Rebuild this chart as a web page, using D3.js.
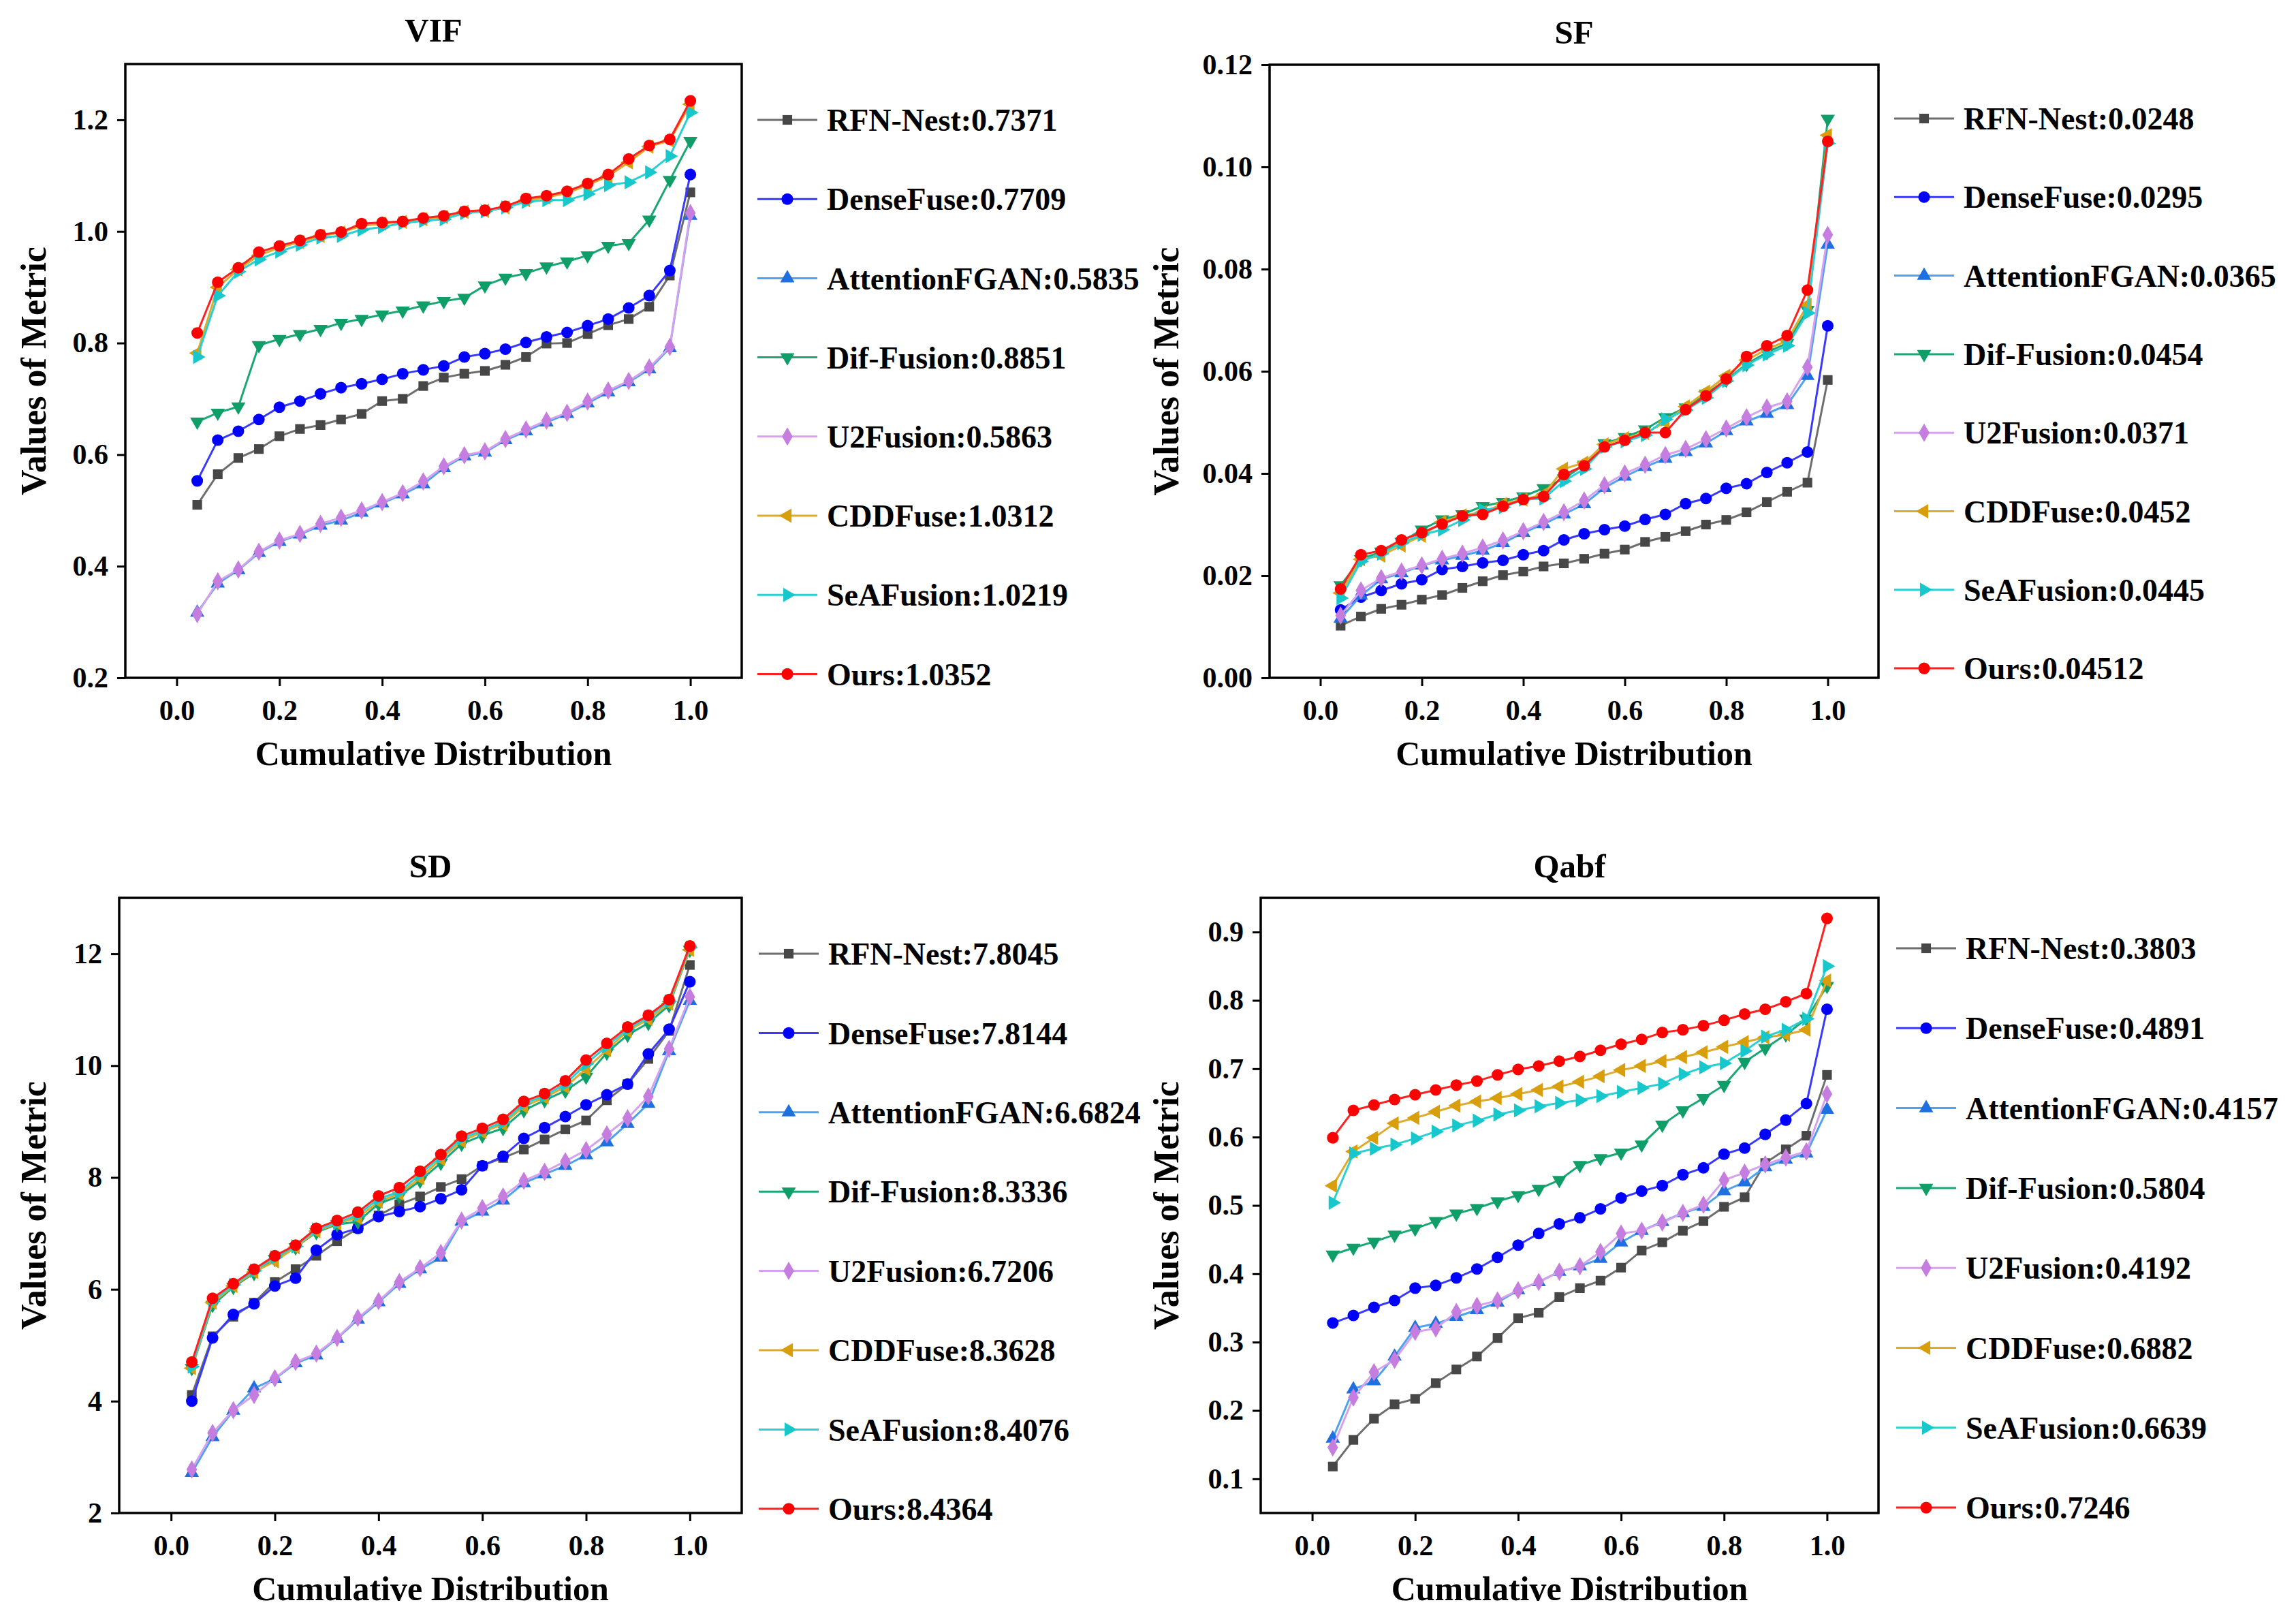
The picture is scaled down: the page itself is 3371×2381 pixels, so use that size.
<!DOCTYPE html>
<html>
<head>
<meta charset="utf-8">
<script src="https://cdn.jsdelivr.net/npm/d3@7/dist/d3.min.js"></script>
<style>
  body { margin: 0; background: #fff; }
  text { font-family: "Liberation Serif", "Times New Roman", serif; font-weight: bold; }
</style>
</head>
<body>
<div id="chart"></div>
<script>
// ---- data ----
const methods = ["RFN-Nest", "DenseFuse", "AttentionFGAN", "Dif-Fusion", "U2Fusion", "CDDFuse", "SeAFusion", "Ours"];
const cdf = [0.04, 0.08, 0.12, 0.16, 0.20, 0.24, 0.28, 0.32, 0.36, 0.40, 0.44, 0.48, 0.52,
             0.56, 0.60, 0.64, 0.68, 0.72, 0.76, 0.80, 0.84, 0.88, 0.92, 0.96, 1.00];
const xTicks = [0.0, 0.2, 0.4, 0.6, 0.8, 1.0];

const vifScores = ["0.7371", "0.7709", "0.5835", "0.8851", "0.5863", "1.0312", "1.0219", "1.0352"];
const vifTicks = [0.2, 0.4, 0.6, 0.8, 1.0, 1.2];
const vifValues = [
  [0.510,0.565,0.594,0.610,0.633,0.646,0.653,0.663,0.673,0.696,0.700,0.723,0.738,0.745,0.750,0.761,0.775,0.799,0.800,0.816,0.832,0.843,0.865,0.921,1.070],
  [0.553,0.626,0.642,0.663,0.685,0.696,0.709,0.720,0.727,0.735,0.745,0.752,0.759,0.775,0.781,0.789,0.801,0.811,0.819,0.831,0.843,0.863,0.885,0.930,1.102],
  [0.317,0.369,0.393,0.424,0.444,0.457,0.473,0.482,0.496,0.513,0.529,0.547,0.576,0.597,0.604,0.626,0.642,0.658,0.673,0.692,0.712,0.730,0.753,0.791,1.028],
  [0.659,0.675,0.686,0.796,0.807,0.816,0.825,0.836,0.843,0.851,0.858,0.867,0.875,0.881,0.903,0.917,0.925,0.937,0.946,0.957,0.974,0.979,1.021,1.092,1.162],
  [0.314,0.373,0.394,0.426,0.446,0.458,0.476,0.487,0.500,0.515,0.531,0.552,0.579,0.599,0.606,0.628,0.645,0.661,0.675,0.695,0.715,0.732,0.756,0.793,1.033],
  [0.782,0.900,0.932,0.957,0.971,0.981,0.992,0.998,1.010,1.014,1.017,1.022,1.026,1.035,1.037,1.043,1.056,1.061,1.069,1.083,1.099,1.124,1.152,1.163,1.228],
  [0.775,0.885,0.928,0.950,0.964,0.976,0.989,0.992,1.003,1.008,1.015,1.019,1.022,1.033,1.036,1.043,1.053,1.056,1.056,1.067,1.083,1.088,1.106,1.135,1.213],
  [0.818,0.909,0.935,0.963,0.974,0.984,0.994,0.999,1.014,1.016,1.018,1.024,1.028,1.036,1.038,1.045,1.059,1.064,1.072,1.086,1.102,1.130,1.154,1.165,1.234]
];

const sfScores = ["0.0248", "0.0295", "0.0365", "0.0454", "0.0371", "0.0452", "0.0445", "0.04512"];
const sfTicks = [0.00, 0.02, 0.04, 0.06, 0.08, 0.10, 0.12];
const sfValues = [
  [0.0102,0.0120,0.0135,0.0143,0.0153,0.0162,0.0176,0.0189,0.0201,0.0208,0.0218,0.0224,0.0233,0.0243,0.0251,0.0266,0.0276,0.0287,0.0300,0.0309,0.0324,0.0344,0.0364,0.0382,0.0583],
  [0.0133,0.0158,0.0171,0.0184,0.0192,0.0212,0.0218,0.0225,0.0230,0.0241,0.0249,0.0270,0.0282,0.0290,0.0297,0.0310,0.0320,0.0341,0.0351,0.0371,0.0380,0.0402,0.0421,0.0442,0.0689],
  [0.0116,0.0161,0.0193,0.0205,0.0220,0.0230,0.0239,0.0249,0.0264,0.0284,0.0301,0.0320,0.0340,0.0372,0.0394,0.0413,0.0429,0.0442,0.0459,0.0483,0.0502,0.0517,0.0534,0.0591,0.0848],
  [0.0181,0.0232,0.0247,0.0266,0.0290,0.0310,0.0320,0.0336,0.0344,0.0355,0.0371,0.0390,0.0417,0.0459,0.0471,0.0486,0.0510,0.0529,0.0556,0.0583,0.0614,0.0637,0.0655,0.0720,0.1094],
  [0.0122,0.0171,0.0195,0.0208,0.0220,0.0233,0.0243,0.0255,0.0269,0.0287,0.0305,0.0324,0.0347,0.0377,0.0400,0.0417,0.0436,0.0448,0.0467,0.0488,0.0510,0.0529,0.0541,0.0608,0.0867],
  [0.0166,0.0232,0.0239,0.0259,0.0278,0.0305,0.0318,0.0324,0.0340,0.0349,0.0359,0.0409,0.0421,0.0457,0.0469,0.0479,0.0500,0.0531,0.0560,0.0591,0.0622,0.0643,0.0660,0.0730,0.1062],
  [0.0156,0.0228,0.0243,0.0264,0.0280,0.0290,0.0309,0.0328,0.0334,0.0349,0.0351,0.0385,0.0409,0.0452,0.0463,0.0475,0.0506,0.0524,0.0548,0.0581,0.0612,0.0633,0.0650,0.0714,0.1046],
  [0.0174,0.0241,0.0249,0.0270,0.0284,0.0301,0.0317,0.0320,0.0336,0.0349,0.0355,0.0398,0.0415,0.0452,0.0465,0.0480,0.0480,0.0525,0.0552,0.0585,0.0629,0.0650,0.0670,0.0759,0.1050]
];

const sdScores = ["7.8045", "7.8144", "6.6824", "8.3336", "6.7206", "8.3628", "8.4076", "8.4364"];
const sdTicks = [2, 4, 6, 8, 10, 12];
const sdValues = [
  [4.11,5.16,5.51,5.76,6.13,6.36,6.60,6.86,7.09,7.32,7.52,7.66,7.83,7.97,8.21,8.35,8.50,8.68,8.86,9.02,9.38,9.67,10.12,10.62,11.80],
  [4.00,5.13,5.55,5.74,6.06,6.20,6.70,6.98,7.09,7.30,7.39,7.48,7.62,7.78,8.21,8.38,8.70,8.89,9.09,9.30,9.48,9.67,10.21,10.65,11.50],
  [2.72,3.36,3.83,4.23,4.40,4.68,4.82,5.12,5.46,5.77,6.10,6.36,6.57,7.21,7.39,7.59,7.90,8.06,8.21,8.40,8.63,8.96,9.32,10.26,11.16],
  [4.59,5.72,6.04,6.29,6.54,6.75,7.02,7.16,7.21,7.53,7.67,7.94,8.26,8.60,8.75,8.88,9.20,9.38,9.55,9.80,10.23,10.55,10.76,11.08,12.07],
  [2.78,3.43,3.84,4.11,4.41,4.70,4.85,5.13,5.49,5.79,6.13,6.38,6.65,7.23,7.45,7.66,7.94,8.10,8.29,8.49,8.77,9.06,9.45,10.30,11.23],
  [4.59,5.76,6.06,6.31,6.50,6.75,7.04,7.18,7.28,7.57,7.71,7.99,8.33,8.65,8.81,8.95,9.27,9.43,9.62,9.94,10.28,10.62,10.83,11.11,12.07],
  [4.62,5.79,6.08,6.33,6.57,6.77,7.07,7.19,7.33,7.62,7.74,8.06,8.37,8.70,8.84,8.99,9.32,9.46,9.67,10.03,10.35,10.65,10.87,11.15,12.11],
  [4.70,5.84,6.10,6.36,6.60,6.79,7.09,7.23,7.38,7.67,7.82,8.11,8.41,8.74,8.88,9.04,9.36,9.50,9.73,10.10,10.40,10.69,10.90,11.18,12.14]
];

const qabfScores = ["0.3803", "0.4891", "0.4157", "0.5804", "0.4192", "0.6882", "0.6639", "0.7246"];
const qabfTicks = [0.1, 0.2, 0.3, 0.4, 0.5, 0.6, 0.7, 0.8, 0.9];
const qabfValues = [
  [0.118,0.157,0.188,0.209,0.217,0.240,0.260,0.279,0.306,0.335,0.343,0.366,0.379,0.390,0.409,0.434,0.446,0.463,0.477,0.498,0.512,0.562,0.582,0.602,0.691],
  [0.328,0.339,0.351,0.361,0.379,0.383,0.394,0.407,0.424,0.442,0.459,0.473,0.482,0.495,0.511,0.521,0.529,0.545,0.555,0.575,0.584,0.604,0.625,0.649,0.787],
  [0.159,0.231,0.243,0.279,0.321,0.327,0.337,0.347,0.358,0.376,0.388,0.403,0.411,0.422,0.446,0.463,0.476,0.489,0.498,0.521,0.534,0.556,0.567,0.576,0.640],
  [0.428,0.438,0.447,0.457,0.466,0.477,0.488,0.496,0.506,0.515,0.524,0.537,0.559,0.569,0.577,0.589,0.618,0.639,0.657,0.676,0.710,0.730,0.750,0.773,0.821],
  [0.146,0.219,0.256,0.274,0.315,0.320,0.344,0.353,0.361,0.376,0.388,0.403,0.411,0.432,0.459,0.463,0.475,0.489,0.501,0.537,0.548,0.560,0.570,0.579,0.663],
  [0.529,0.579,0.599,0.620,0.628,0.637,0.646,0.652,0.657,0.663,0.669,0.674,0.681,0.689,0.698,0.704,0.711,0.717,0.724,0.732,0.739,0.746,0.750,0.757,0.829],
  [0.504,0.576,0.583,0.589,0.598,0.608,0.617,0.624,0.633,0.639,0.645,0.650,0.654,0.660,0.666,0.672,0.678,0.692,0.702,0.708,0.726,0.747,0.757,0.773,0.850],
  [0.599,0.639,0.647,0.655,0.662,0.669,0.676,0.682,0.691,0.699,0.704,0.711,0.718,0.727,0.736,0.743,0.753,0.757,0.763,0.771,0.780,0.787,0.798,0.810,0.920]
];

// ---- styles ----
const markColors = ["#474747", "#0000ff", "#1e6fe0", "#0f9e68", "#c57ddf", "#d99e0b", "#16c8cc", "#ff0000"];
const lineColors = ["#6e6e6e", "#3a3aff", "#4da3f0", "#19a774", "#d6a2ee", "#dfab2c", "#2ad0d4", "#ff2020"];
const shapes = [
  {type: d3.symbolSquare, rot: 0, size: 200},
  {type: d3.symbolCircle, rot: 0, size: 230},
  {type: d3.symbolTriangle, rot: 0, size: 190},
  {type: d3.symbolTriangle, rot: 180, size: 190},
  {type: d3.symbolDiamond, rot: 0, size: 210},
  {type: d3.symbolTriangle, rot: -90, size: 190},
  {type: d3.symbolTriangle, rot: 90, size: 190},
  {type: d3.symbolCircle, rot: 0, size: 230}
];

const panels = [
  {title: "VIF", values: vifValues, scores: vifScores, ticks: vifTicks, fmt: ".1f", domain: [0.2, 1.3],
   box: [184, 94, 1089, 995], titleY: 44, yLabelX: 49, legX: 1112, legY: 176, legDy: 116.2},
  {title: "SF", values: sfValues, scores: sfScores, ticks: sfTicks, fmt: ".2f", domain: [0, 0.12],
   box: [1864, 95, 2758, 995], titleY: 47, yLabelX: 1712, legX: 2781, legY: 174, legDy: 115.3},
  {title: "SD", values: sdValues, scores: sdScores, ticks: sdTicks, fmt: "d", domain: [2, 13],
   box: [175, 1318, 1089, 2221], titleY: 1271, yLabelX: 49, legX: 1114, legY: 1400, legDy: 116.4},
  {title: "Qabf", values: qabfValues, scores: qabfScores, ticks: qabfTicks, fmt: ".1f", domain: [0.05, 0.95],
   box: [1851, 1318, 2758, 2221], titleY: 1271, yLabelX: 1712, legX: 2784, legY: 1392, legDy: 117.3}
];

const svg = d3.select("#chart").append("svg")
  .attr("width", 3371)
  .attr("height", 2381);

svg.append("rect").attr("width", 3371).attr("height", 2381).attr("fill", "#fff");

panels.forEach(p => {
  const [x0, y0, x1, y1] = p.box;
  const x = d3.scaleLinear().domain([-0.1, 1.1]).range([x0, x1]);
  const y = d3.scaleLinear().domain(p.domain).range([y1, y0]);
  const g = svg.append("g");

  // axes
  const ax = g.append("g")
    .attr("transform", "translate(0," + y1 + ")")
    .call(d3.axisBottom(x).tickValues(xTicks).tickFormat(d3.format(".1f")).tickSize(12).tickPadding(20).tickSizeOuter(0));
  const ay = g.append("g")
    .attr("transform", "translate(" + x0 + ",0)")
    .call(d3.axisLeft(y).tickValues(p.ticks).tickFormat(d3.format(p.fmt)).tickSize(12).tickPadding(13).tickSizeOuter(0));
  [ax, ay].forEach(a => {
    a.select(".domain").remove();
    a.selectAll("line").attr("stroke", "#000").attr("stroke-width", 3);
    a.selectAll("text").attr("font-size", 42).attr("fill", "#000")
      .style("font-family", "'Liberation Serif', serif").style("font-weight", "bold");
  });

  g.append("rect")
    .attr("x", x0).attr("y", y0)
    .attr("width", x1 - x0).attr("height", y1 - y0)
    .attr("fill", "none").attr("stroke", "#000").attr("stroke-width", 3.5);

  // title and axis labels
  g.append("text")
    .attr("x", (x0 + x1) / 2).attr("y", p.titleY)
    .attr("dy", "0.35em").attr("text-anchor", "middle")
    .attr("font-size", 49).text(p.title);
  g.append("text")
    .attr("x", (x0 + x1) / 2).attr("y", y1 + 110)
    .attr("dy", "0.35em").attr("text-anchor", "middle")
    .attr("font-size", 50).text("Cumulative Distribution");
  g.append("text")
    .attr("transform", "translate(" + p.yLabelX + "," + ((y0 + y1) / 2) + ") rotate(-90)")
    .attr("dy", "0.35em").attr("text-anchor", "middle")
    .attr("font-size", 52).text("Values of Metric");

  // series
  const line = d3.line().x((d, i) => x(cdf[i])).y(d => y(d));
  p.values.forEach((vals, k) => {
    const s = g.append("g");
    s.append("path")
      .datum(vals)
      .attr("fill", "none")
      .attr("stroke", lineColors[k])
      .attr("stroke-width", 3)
      .attr("d", line);
    s.selectAll("path.m")
      .data(vals)
      .join("path")
      .attr("class", "m")
      .attr("transform", (d, i) => "translate(" + x(cdf[i]) + "," + y(d) + ") rotate(" + shapes[k].rot + ")")
      .attr("d", d3.symbol().type(shapes[k].type).size(shapes[k].size))
      .attr("fill", markColors[k]);
  });

  // legend
  methods.forEach((m, k) => {
    const ly = p.legY + k * p.legDy;
    const lg = g.append("g");
    lg.append("line")
      .attr("x1", p.legX).attr("x2", p.legX + 88)
      .attr("y1", ly).attr("y2", ly)
      .attr("stroke", lineColors[k]).attr("stroke-width", 3);
    lg.append("path")
      .attr("transform", "translate(" + (p.legX + 44) + "," + ly + ") rotate(" + shapes[k].rot + ")")
      .attr("d", d3.symbol().type(shapes[k].type).size(shapes[k].size))
      .attr("fill", markColors[k]);
    lg.append("text")
      .attr("x", p.legX + 102).attr("y", ly)
      .attr("dy", "0.35em")
      .attr("font-size", 46)
      .text(m + ":" + p.scores[k]);
  });
});
</script>
</body>
</html>
